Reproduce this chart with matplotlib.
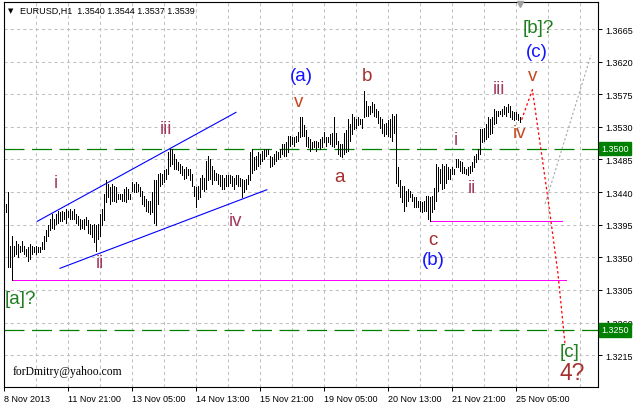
#!/usr/bin/env python3
"""EURUSD H1 bar chart with Elliott wave marks and forecast lines."""

import matplotlib
matplotlib.use("Agg")
import matplotlib.pyplot as plt
import numpy as np

plt.rcParams["font.family"] = ["Liberation Sans", "DejaVu Sans"]

# hourly bars, first bar is index 1 (2 px per bar on the original chart)
bar_high = [
    1.3424, 1.3440, 1.3366, 1.3380, 1.3366, 1.3373, 1.3368, 1.3366, 1.3373, 1.3366,
    1.3361, 1.3364, 1.3368, 1.3366, 1.3364, 1.3366, 1.3364, 1.3364, 1.3371, 1.3380,
    1.3387, 1.3395, 1.3403, 1.3410, 1.3403, 1.3410, 1.3414, 1.3412, 1.3414, 1.3412,
    1.3417, 1.3414, 1.3417, 1.3414, 1.3417, 1.3410, 1.3407, 1.3403, 1.3401, 1.3403,
    1.3405, 1.3401, 1.3396, 1.3394, 1.3396, 1.3394, 1.3396, 1.3410, 1.3417, 1.3437,
    1.3456, 1.3451, 1.3447, 1.3451,
    1.3449, 1.3447, 1.3437, 1.3437, 1.3437, 1.3444, 1.3447, 1.3444, 1.3437, 1.3454,
    1.3451, 1.3454, 1.3451, 1.3447, 1.3442, 1.3435, 1.3431, 1.3428, 1.3428, 1.3440,
    1.3456, 1.3456, 1.3465, 1.3467, 1.3465, 1.3470, 1.3472, 1.3495, 1.3500, 1.3499,
    1.3492, 1.3486, 1.3481, 1.3479, 1.3476, 1.3472, 1.3474, 1.3472, 1.3472, 1.3465,
    1.3449, 1.3447, 1.3449, 1.3460, 1.3463, 1.3460, 1.3483, 1.3490, 1.3486, 1.3476,
    1.3470, 1.3467, 1.3465,
    1.3464, 1.3463, 1.3460, 1.3463, 1.3463, 1.3463, 1.3462, 1.3460, 1.3463, 1.3464,
    1.3460, 1.3458, 1.3456, 1.3458, 1.3463, 1.3495, 1.3499, 1.3488, 1.3490, 1.3495,
    1.3493, 1.3497, 1.3499, 1.3499, 1.3499, 1.3490, 1.3488, 1.3493, 1.3497, 1.3495,
    1.3499, 1.3506, 1.3506, 1.3509, 1.3518, 1.3518, 1.3516, 1.3516, 1.3518, 1.3523,
    1.3543, 1.3543, 1.3532, 1.3525, 1.3516, 1.3513, 1.3509, 1.3511, 1.3511, 1.3509,
    1.3513, 1.3516, 1.3523, 1.3516,
    1.3516, 1.3520, 1.3522, 1.3543, 1.3522, 1.3511, 1.3506, 1.3506, 1.3522, 1.3525,
    1.3541, 1.3534, 1.3548, 1.3543, 1.3541, 1.3543, 1.3541, 1.3541, 1.3580, 1.3566,
    1.3559, 1.3559, 1.3564, 1.3561, 1.3555, 1.3552, 1.3543, 1.3541, 1.3534, 1.3536,
    1.3539, 1.3541, 1.3548, 1.3545, 1.3548, 1.3474, 1.3456, 1.3449, 1.3449, 1.3442,
    1.3444, 1.3442, 1.3437, 1.3433, 1.3433, 1.3428, 1.3428, 1.3426, 1.3428, 1.3435,
    1.3435,
    1.3433, 1.3435, 1.3446, 1.3479, 1.3474, 1.3472, 1.3479, 1.3476, 1.3479, 1.3474,
    1.3472, 1.3474, 1.3472, 1.3486, 1.3486, 1.3483, 1.3481, 1.3474, 1.3472, 1.3474,
    1.3476, 1.3481, 1.3490, 1.3492, 1.3499, 1.3527, 1.3527, 1.3529, 1.3534, 1.3543,
    1.3541, 1.3543, 1.3555, 1.3552, 1.3552, 1.3552, 1.3555, 1.3559, 1.3557, 1.3562,
    1.3559, 1.3552, 1.3550, 1.3550, 1.3548, 1.3544,
]
bar_low = [
    1.3412, 1.3336, 1.3336, 1.3318, 1.3352, 1.3354, 1.3350, 1.3357, 1.3359, 1.3354,
    1.3352, 1.3345, 1.3348, 1.3354, 1.3357, 1.3354, 1.3357, 1.3357, 1.3361, 1.3361,
    1.3373, 1.3380, 1.3387, 1.3391, 1.3389, 1.3396, 1.3398, 1.3400, 1.3400, 1.3403,
    1.3398, 1.3405, 1.3403, 1.3403, 1.3403, 1.3398, 1.3394, 1.3389, 1.3391, 1.3389,
    1.3394, 1.3384, 1.3382, 1.3378, 1.3371, 1.3359, 1.3375, 1.3380, 1.3394, 1.3401,
    1.3426, 1.3433, 1.3424, 1.3428,
    1.3428, 1.3426, 1.3431, 1.3431, 1.3428, 1.3428, 1.3426, 1.3431, 1.3431, 1.3442,
    1.3440, 1.3440, 1.3442, 1.3435, 1.3424, 1.3421, 1.3414, 1.3412, 1.3410, 1.3412,
    1.3398, 1.3394, 1.3424, 1.3449, 1.3451, 1.3454, 1.3458, 1.3465, 1.3476, 1.3479,
    1.3472, 1.3472, 1.3470, 1.3467, 1.3463, 1.3458, 1.3460, 1.3463, 1.3456, 1.3449,
    1.3435, 1.3419, 1.3431, 1.3433, 1.3444, 1.3442, 1.3444, 1.3456, 1.3458, 1.3451,
    1.3456, 1.3456, 1.3451,
    1.3449, 1.3444, 1.3444, 1.3449, 1.3449, 1.3453, 1.3449, 1.3444, 1.3451, 1.3449,
    1.3449, 1.3433, 1.3440, 1.3444, 1.3451, 1.3456, 1.3467, 1.3470, 1.3472, 1.3476,
    1.3479, 1.3483, 1.3486, 1.3490, 1.3493, 1.3474, 1.3476, 1.3479, 1.3483, 1.3486,
    1.3488, 1.3493, 1.3490, 1.3490, 1.3495, 1.3504, 1.3506, 1.3504, 1.3509, 1.3511,
    1.3516, 1.3518, 1.3518, 1.3504, 1.3502, 1.3497, 1.3499, 1.3502, 1.3497, 1.3502,
    1.3499, 1.3502, 1.3509, 1.3504,
    1.3509, 1.3506, 1.3504, 1.3502, 1.3506, 1.3492, 1.3490, 1.3488, 1.3492, 1.3495,
    1.3497, 1.3511, 1.3520, 1.3527, 1.3529, 1.3532, 1.3534, 1.3529, 1.3543, 1.3545,
    1.3545, 1.3548, 1.3550, 1.3545, 1.3543, 1.3536, 1.3529, 1.3522, 1.3518, 1.3520,
    1.3518, 1.3516, 1.3511, 1.3522, 1.3453, 1.3449, 1.3433, 1.3426, 1.3414, 1.3421,
    1.3428, 1.3433, 1.3428, 1.3419, 1.3419, 1.3419, 1.3414, 1.3412, 1.3414, 1.3414,
    1.3403,
    1.3400, 1.3412, 1.3417, 1.3428, 1.3442, 1.3453, 1.3444, 1.3446, 1.3453, 1.3458,
    1.3458, 1.3465, 1.3465, 1.3474, 1.3475, 1.3469, 1.3467, 1.3467, 1.3465, 1.3463,
    1.3467, 1.3469, 1.3474, 1.3481, 1.3486, 1.3492, 1.3509, 1.3511, 1.3513, 1.3516,
    1.3520, 1.3522, 1.3534, 1.3536, 1.3545, 1.3548, 1.3545, 1.3548, 1.3545, 1.3550,
    1.3543, 1.3541, 1.3539, 1.3541, 1.3539, 1.3537,
]

x_tick_pos = [0, 32, 64, 96, 128, 160, 192, 224, 256]
x_tick_labels = ["8 Nov 2013", "11 Nov 21:00", "13 Nov 05:00", "14 Nov 13:00",
                 "15 Nov 21:00", "19 Nov 05:00", "20 Nov 13:00", "21 Nov 21:00",
                 "25 Nov 05:00"]
y_ticks = [1.3215, 1.3260, 1.3305, 1.3350, 1.3395, 1.3440, 1.3485, 1.3530,
           1.3575, 1.3620, 1.3665]

green_levels = [1.3500, 1.3250]
# magenta support lines: (level, start bar, end bar)
magenta_lines = [(1.3318, 4, 281), (1.3400, 213, 279)]
# channel lines: (bar, price) end points
channel_upper = ([16.6, 116.0], [1.33996, 1.35500])
channel_lower = ([28.0, 131.4], [1.33348, 1.34432])
# forecast paths
red_path_x = [258.8, 264.2, 272.0, 277.0, 280.5]
red_path_y = [1.35398, 1.35812, 1.34304, 1.33269, 1.32303]
grey_path_x = [270.5, 293.5]
grey_path_y = [1.34235, 1.36291]

ROMAN = "#a23a5c"
FIFTH = "#c8461c"
ABC = "#a3302e"
BLUE = "#1414ff"
GREEN = "#1f7f1f"
# wave labels: (bar, price, text, colour, size)
wave_labels = [
    (25.9, 1.34534, "i", ROMAN, 13.5),
    (48.0, 1.33430, "ii", ROMAN, 13.5),
    (80.9, 1.35280, "iii", ROMAN, 13.5),
    (116.0, 1.34005, "iv", ROMAN, 13.5),
    (147.2, 1.35647, "v", FIFTH, 13.5),
    (148.5, 1.36003, "(a)", BLUE, 13.5),
    (181.7, 1.36006, "b", ABC, 13.5),
    (167.7, 1.34612, "a", ABC, 13.5),
    (214.4, 1.33752, "c", ABC, 13.5),
    (214.7, 1.33476, "(b)", BLUE, 13.5),
    (225.9, 1.35132, "i", ROMAN, 13.5),
    (233.9, 1.34465, "ii", ROMAN, 13.5),
    (247.7, 1.35832, "iii", ROMAN, 13.5),
    (258.0, 1.35224, "iv", FIFTH, 13.5),
    (264.2, 1.36015, "v", FIFTH, 13.5),
    (266.4, 1.36337, "(c)", BLUE, 13.5),
    (267.2, 1.36673, "[b]?", GREEN, 13.5),
    (8.4, 1.32938, "[a]?", GREEN, 13.5),
    (283.0, 1.32197, "[c]", GREEN, 13.5),
    (283.9, 1.31912, "4?", ABC, 16.5),
]

fig = plt.figure(figsize=(6.37, 4.06), dpi=100)
ax = fig.add_axes([4 / 637, 18 / 406, 594 / 637, 385 / 406])
ax.set_xlim(0, 297)
ax.set_ylim(1.31710, 1.37023)

# grid
for gx in np.arange(16, 297, 16):
    ax.axvline(gx, color="#c0c0c0", lw=0.75, ls=(0, (3, 3)), zorder=0)
for gy in y_ticks:
    ax.axhline(gy, color="#c0c0c0", lw=0.75, ls=(0, (3, 3)), zorder=0)

for lvl in green_levels:
    ax.axhline(lvl, color="#008000", lw=0.9, ls=(0, (16, 6)), zorder=1)

for lvl, x0, x1 in magenta_lines:
    ax.hlines(lvl, x0, x1, color="#ff00ff", lw=0.65, antialiased=False, zorder=1)

ax.plot(*channel_upper, color="#0000ff", lw=0.8, zorder=2)
ax.plot(*channel_lower, color="#0000ff", lw=0.8, zorder=2)

bars_x = np.arange(1, len(bar_high) + 1)
ax.vlines(bars_x, bar_low, bar_high, color="black", lw=0.65, antialiased=False, zorder=3)

ax.plot(red_path_x, red_path_y, color="#ff0000", lw=0.9, ls=(0, (2, 2)), zorder=4)
ax.plot(grey_path_x, grey_path_y, color="#a8a8a8", lw=0.8, ls=(0, (2, 2)), zorder=4)

for bx, py, txt, col, size in wave_labels:
    ax.text(bx, py, txt, color=col, fontsize=size, ha="center", va="center", zorder=5)

ax.text(4.3, 1.31935, "forDmitry@yahoo.com", family="Liberation Serif", fontsize=8.4,
        ha="left", va="center", color="black", zorder=5)

# axes, ticks
for side in ax.spines.values():
    side.set_color("black")
    side.set_linewidth(0.8)
ax.yaxis.tick_right()
ax.set_yticks(y_ticks)
ax.set_yticklabels([f"{v:.4f}" for v in y_ticks])
ax.set_xticks(x_tick_pos)
ax.set_xticklabels(x_tick_labels)
for lbl in ax.get_xticklabels():
    lbl.set_horizontalalignment("left")
ax.tick_params(axis="both", direction="out", length=3, width=0.7, labelsize=6.5,
               pad=2, colors="black")

for lvl in green_levels:
    ax.text(1.0 + 3 / 594, lvl, f"{lvl:.4f}", transform=ax.get_yaxis_transform(),
            ha="left", va="center", color="white", fontsize=6.5, zorder=6,
            bbox=dict(boxstyle="square,pad=0.25", fc="#008000", ec="#008000"))

ax.plot([258], [1.36995], marker="v", color="#a0a0a0", ms=4, clip_on=False, zorder=6)

fig.text(11 / 637, 1 - 11 / 406, "\u25bc", family="DejaVu Sans", fontsize=5,
         ha="center", va="center")
fig.text(20 / 637, 1 - 11 / 406, "EURUSD,H1  1.3540 1.3544 1.3537 1.3539",
         fontsize=6.5, ha="left", va="center")

fig.savefig("out.png", dpi=100)
